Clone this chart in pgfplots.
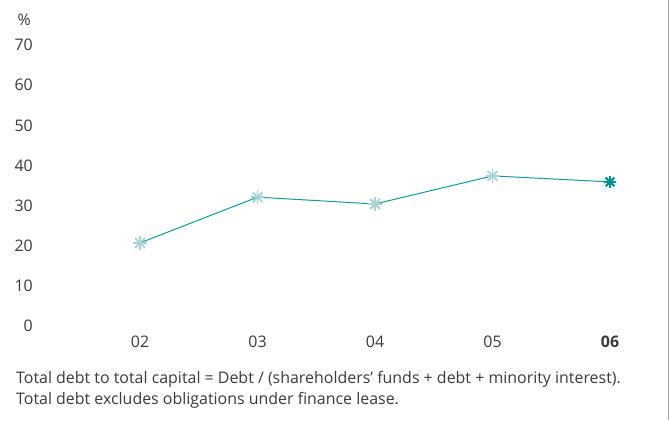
\documentclass[border=0pt]{standalone}
\usepackage{fontspec}
\setmainfont{Open Sans}
\usepackage{pgfplots}
\pgfplotsset{compat=1.18}
\definecolor{txt}{HTML}{3A3A3A}
\definecolor{lineC}{HTML}{12999A}
\definecolor{lightM}{HTML}{A9D4D7}
\definecolor{darkM}{HTML}{00908E}
\pgfplotstableread{
x y
0 20.7
1 32.1
2 30.4
3 37.4
4 35.9
}\ratio
\pgfplotstableread{
x y
0 20.7
1 32.1
2 30.4
3 37.4
}\light
\pgfplotstableread{
x y
4 35.9
}\dark
\begin{document}
\begin{tikzpicture}[x=1bp,y=1bp]
\path[use as bounding box] (0,0) rectangle (671,420);
\begin{axis}[
  at={(0,0)}, anchor=south west,
  scale only axis, width=671bp, height=420bp,
  xmin=-1.1915, xmax=4.519, ymin=-23.42, ymax=81.22,
  axis line style={draw=none},
  major tick length=0,
  xtick={0,1,2,3,4},
  xticklabels={02,03,04,05,\textbf{06}},
  ytick={0,10,...,70},
  /pgf/number format/assume math mode=true,
  tick label style={font=\fontsize{16}{18}\selectfont, text=txt},
  yticklabel style={anchor=east, inner sep=0pt, xshift=33bp},
  xticklabel style={anchor=center, inner sep=0pt, yshift=78bp},
  clip=false,
]
\addplot[lineC, line width=1pt] table {\ratio};
\addplot[only marks, mark=+, mark size=7pt, mark options={lightM, line width=1.9pt}] table {\light};
\addplot[only marks, mark=x, mark size=7pt, mark options={lightM, line width=1.9pt}] table {\light};
\addplot[only marks, mark=+, mark size=6.2pt, mark options={darkM, line width=2.1pt}] table {\dark};
\addplot[only marks, mark=x, mark size=6.2pt, mark options={darkM, line width=2.1pt}] table {\dark};
\end{axis}
\draw[gray!70, line width=0.8pt] (668,0) -- (668,420);
\node[anchor=east, inner sep=0pt, text=txt, font=\fontsize{16}{18}\selectfont] at (31,400) {\%};
\node[anchor=base west, inner sep=0pt, text=txt, font=\fontsize{16}{18}\selectfont] at (16,37) {Total debt to total capital = Debt / (shareholders’ funds + debt + minority interest).};
\node[anchor=base west, inner sep=0pt, text=txt, font=\fontsize{16}{18}\selectfont] at (16,16) {Total debt excludes obligations under finance lease.};
\end{tikzpicture}
\end{document}
